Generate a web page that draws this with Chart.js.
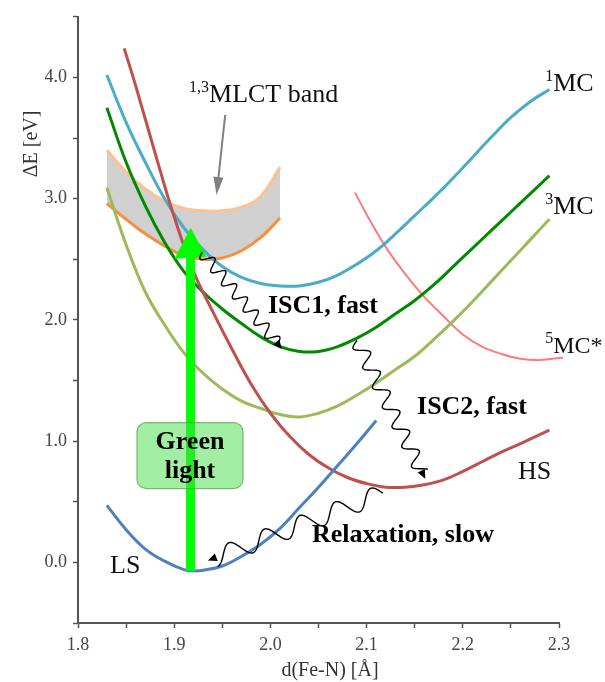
<!DOCTYPE html>
<html>
<head>
<meta charset="utf-8">
<script src="https://cdn.jsdelivr.net/npm/chart.js@4/dist/chart.umd.min.js"></script>
<style>
  html, body { margin: 0; padding: 0; background: #fff; }
  #wrap { position: relative; width: 605px; height: 682px; }
</style>
</head>
<body>
<div id="wrap"><canvas id="pes" width="605" height="682"></canvas></div>
<script>
/* Fe–N potential energy curves: LS / HS / MC / MLCT */

const ticksX = [1.8, 1.9, 2.0, 2.1, 2.2, 2.3];
const ticksY = [0.0, 1.0, 2.0, 3.0, 4.0];

// LS ground state (blue)
const lsX = [1.83, 1.85, 1.87, 1.89, 1.91, 1.92, 1.93, 1.95, 1.97, 1.99, 2.01, 2.03, 2.05, 2.07, 2.09, 2.11];
const lsE = [0.47, 0.27, 0.11, 0.01, -0.06, -0.07, -0.065, -0.03, 0.05, 0.15, 0.28, 0.45, 0.62, 0.80, 0.98, 1.17];

// HS (red)
const hsX = [1.848, 1.86, 1.88, 1.90, 1.92, 1.94, 1.96, 1.98, 2.00, 2.02, 2.04, 2.06, 2.08, 2.10, 2.12, 2.14, 2.16, 2.18, 2.20, 2.22, 2.24, 2.26, 2.29];
const hsE = [4.24, 3.93, 3.38, 2.85, 2.40, 2.07, 1.76, 1.47, 1.23, 1.04, 0.89, 0.78, 0.70, 0.65, 0.62, 0.62, 0.64, 0.68, 0.75, 0.83, 0.91, 0.98, 1.09];

// shared grid for the MC curves
const mcX = [1.83, 1.85, 1.87, 1.89, 1.91, 1.93, 1.95, 1.97, 1.99, 2.01, 2.03, 2.05, 2.07, 2.09, 2.11, 2.13, 2.15, 2.17, 2.19, 2.21, 2.23, 2.25, 2.27, 2.29];
const mc1E  = [4.02, 3.63, 3.30, 3.00, 2.76, 2.58, 2.44, 2.35, 2.30, 2.28, 2.28, 2.31, 2.37, 2.46, 2.57, 2.71, 2.86, 3.01, 3.17, 3.34, 3.51, 3.67, 3.80, 3.90];
const mc3E  = [3.75, 3.30, 2.94, 2.64, 2.40, 2.23, 2.09, 1.97, 1.86, 1.78, 1.74, 1.74, 1.78, 1.85, 1.94, 2.05, 2.16, 2.29, 2.44, 2.59, 2.74, 2.89, 3.04, 3.19];
const mc3bE = [3.09, 2.62, 2.23, 1.96, 1.73, 1.56, 1.43, 1.33, 1.27, 1.22, 1.20, 1.23, 1.29, 1.38, 1.48, 1.59, 1.70, 1.84, 1.99, 2.15, 2.32, 2.49, 2.66, 2.83];

// 5MC* (pink)
const mc5X = [2.088, 2.10, 2.12, 2.14, 2.16, 2.18, 2.20, 2.22, 2.24, 2.26, 2.28, 2.304];
const mc5E = [3.05, 2.87, 2.60, 2.38, 2.19, 2.03, 1.88, 1.78, 1.72, 1.68, 1.67, 1.69];

// MLCT band edges
const mlctX      = [1.83, 1.85, 1.87, 1.89, 1.91, 1.93, 1.95, 1.97, 1.99, 2.01];
const mlctLowE   = [2.96, 2.83, 2.71, 2.61, 2.53, 2.50, 2.51, 2.57, 2.68, 2.84];
const mlctHighE  = [3.40, 3.22, 3.08, 2.98, 2.92, 2.90, 2.90, 2.93, 3.02, 3.26];

// annotations, in data units [x, E]
const greenArrow = [[1.917, -0.07], [1.917, 2.76]];
const greenBox   = [[1.8613, 1.152], [1.9715, 0.609]];
const bandArrow  = [[1.953, 3.69], [1.944, 3.03]];
const iscOne     = [[1.929, 2.56], [2.012, 1.76]];
const iscTwo     = [[2.090, 1.83], [2.161, 0.69]];
const relaxWave  = [[2.117, 0.57], [1.935, 0.016]];

const SERIF = "'Liberation Serif', 'Times New Roman', serif";

const pts = (xs, ys) => xs.map((v, i) => ({ x: v, y: ys[i] }));

const line = (data, color, width) => ({
  data, borderColor: color, borderWidth: width, pointRadius: 0,
  fill: false, tension: 0.4
});

const bandLow  = line(pts(mlctX, mlctLowE), '#f39143', 3);
const bandHigh = Object.assign(line(pts(mlctX, mlctHighE), '#fcc293', 3),
  { fill: '-1', backgroundColor: '#d0d0d0' });
const pink = Object.assign(line(pts(mc5X, mc5E), '#ff7a7a', 2), { clip: false });

const wavy = (ctx, a, b, wl, amp) => {
  const dx = b[0] - a[0], dy = b[1] - a[1];
  const len = Math.hypot(dx, dy);
  const ux = dx / len, uy = dy / len, nx = -uy, ny = ux;
  const body = len - 7;
  ctx.beginPath();
  for (let s = 0; s <= body; s += 0.5) {
    const o = amp * Math.sin(2 * Math.PI * s / wl);
    const px = a[0] + ux * s + nx * o, py = a[1] + uy * s + ny * o;
    s === 0 ? ctx.moveTo(px, py) : ctx.lineTo(px, py);
  }
  ctx.stroke();
  // head
  ctx.beginPath();
  ctx.moveTo(b[0], b[1]);
  ctx.lineTo(b[0] - ux * 9 + nx * 4, b[1] - uy * 9 + ny * 4);
  ctx.lineTo(b[0] - ux * 9 - nx * 4, b[1] - uy * 9 - ny * 4);
  ctx.closePath();
  ctx.fill();
};

const labelsPlugin = {
  id: 'annot',
  afterDatasetsDraw(chart) {
    const { ctx, scales: { x, y } } = chart;
    const P = p => [x.getPixelForValue(p[0]), y.getPixelForValue(p[1])];
    ctx.save();

    /* green excitation arrow */
    const g0 = P(greenArrow[0]), g1 = P(greenArrow[1]);
    ctx.fillStyle = '#00ff00';
    ctx.fillRect(g0[0] - 4.5, g1[1] + 28, 9, g0[1] - g1[1] - 28);
    ctx.beginPath();
    ctx.moveTo(g1[0], g1[1]);
    ctx.lineTo(g1[0] - 16, g1[1] + 31);
    ctx.lineTo(g1[0] + 16, g1[1] + 29);
    ctx.closePath();
    ctx.fill();

    /* box */
    const b0 = P(greenBox[0]), b1 = P(greenBox[1]);
    ctx.beginPath();
    ctx.roundRect(b0[0], b0[1], b1[0] - b0[0], b1[1] - b0[1], 9);
    ctx.fillStyle = 'rgba(70,222,70,0.5)';
    ctx.fill();
    ctx.strokeStyle = 'rgba(70,165,70,0.7)';
    ctx.lineWidth = 1.2;
    ctx.stroke();

    /* gray arrow to MLCT band */
    const a0 = P(bandArrow[0]), a1 = P(bandArrow[1]);
    ctx.strokeStyle = '#7f7f7f';
    ctx.fillStyle = '#7f7f7f';
    ctx.lineWidth = 2;
    const ang = Math.atan2(a1[1] - a0[1], a1[0] - a0[0]);
    ctx.beginPath();
    ctx.moveTo(a0[0], a0[1]);
    ctx.lineTo(a1[0] - Math.cos(ang) * 14, a1[1] - Math.sin(ang) * 14);
    ctx.stroke();
    ctx.beginPath();
    ctx.moveTo(a1[0], a1[1]);
    ctx.lineTo(a1[0] - Math.cos(ang) * 18 - Math.sin(ang) * 5, a1[1] - Math.sin(ang) * 18 + Math.cos(ang) * 5);
    ctx.lineTo(a1[0] - Math.cos(ang) * 18 + Math.sin(ang) * 5, a1[1] - Math.sin(ang) * 18 - Math.cos(ang) * 5);
    ctx.closePath();
    ctx.fill();

    /* wavy transitions */
    ctx.strokeStyle = '#000';
    ctx.fillStyle = '#000';
    ctx.lineWidth = 1.4;
    wavy(ctx, P(iscOne[0]), P(iscOne[1]), 17, 6);
    wavy(ctx, P(iscTwo[0]), P(iscTwo[1]), 22, 7);
    wavy(ctx, P(relaxWave[0]), P(relaxWave[1]), 38, 9);

    /* text */
    const txt = (s, p, font, color = '#111', align = 'left') => {
      ctx.font = font;
      ctx.fillStyle = color;
      ctx.textAlign = align;
      ctx.textBaseline = 'alphabetic';
      const q = P(p);
      ctx.fillText(s, q[0], q[1]);
    };
    const sup = (s, main, p, size = 26) => {
      const q = P(p);
      ctx.fillStyle = '#111';
      ctx.textBaseline = 'alphabetic';
      ctx.font = `16px ${SERIF}`;
      ctx.textAlign = 'right';
      ctx.fillText(s, q[0], q[1] - 10);
      ctx.textAlign = 'left';
      ctx.font = `${size}px ${SERIF}`;
      ctx.fillText(main, q[0], q[1]);
    };
    const bold = `bold 26px ${SERIF}`;
    txt('Green', [1.9164, 0.939], bold, '#000', 'center');
    txt('light', [1.9164, 0.700], bold, '#000', 'center');
    txt('ISC1, fast', [1.9975, 2.058], bold, '#000');
    txt('ISC2, fast', [2.1524, 1.226], bold, '#000');
    txt('Relaxation, slow', [2.0432, 0.165], bold, '#000');
    txt('LS', [1.8333, -0.09], `26px ${SERIF}`);
    txt('HS', [2.2574, 0.691], `26px ${SERIF}`);
    sup('1', 'MC', [2.294, 3.885]);
    sup('3', 'MC', [2.294, 2.872]);
    sup('5', 'MC*', [2.294, 1.728], 24);
    sup('1,3', 'MLCT band', [1.9362, 3.80]);

    /* axis titles */
    ctx.fillStyle = '#333';
    ctx.font = `20px ${SERIF}`;
    ctx.textAlign = 'center';
    ctx.textBaseline = 'alphabetic';
    ctx.fillText('d(Fe-N) [Å]', 330, 676);
    ctx.translate(37, 144);
    ctx.rotate(-Math.PI / 2);
    ctx.fillText('ΔE [eV]', 0, 0);
    ctx.restore();
  }
};

const isMajor = (v, list) => list.some(t => Math.abs(t - v) < 1e-6);

new Chart(document.getElementById('pes'), {
  type: 'line',
  data: {
    datasets: [
      line(pts(lsX, lsE), '#4f81bd', 3),
      line(pts(hsX, hsE), '#c0504d', 3),
      line(pts(mcX, mc3E), '#008a00', 3),
      line(pts(mcX, mc1E), '#4bacc6', 3),
      line(pts(mcX, mc3bE), '#9bbb59', 3),
      pink,
      bandLow,
      bandHigh
    ]
  },
  options: {
    responsive: false,
    animation: false,
    layout: { padding: { top: 14, right: 46, left: 0, bottom: 0 } },
    plugins: {
      legend: { display: false },
      tooltip: { enabled: false },
      filler: { drawTime: 'beforeDatasetsDraw' }
    },
    scales: {
      x: {
        type: 'linear', min: 1.8, max: 2.3,
        afterFit: s => { s.height = 59; },
        border: { display: true, color: '#555', width: 2 },
        grid: { display: true, drawOnChartArea: false, tickLength: 5, color: '#555', tickWidth: 1.5 },
        ticks: {
          stepSize: 0.05, autoSkip: false, maxRotation: 0, padding: 6,
          color: '#444', font: { family: SERIF, size: 18 },
          callback: v => isMajor(v, ticksX) ? v.toFixed(1) : ''
        }
      },
      y: {
        min: -0.5, max: 4.5,
        afterFit: s => { s.width = 78; },
        border: { display: true, color: '#555', width: 2 },
        grid: { display: true, drawOnChartArea: false, tickLength: 5, color: '#555', tickWidth: 1.5 },
        ticks: {
          stepSize: 0.5, autoSkip: false, padding: 6,
          color: '#444', font: { family: SERIF, size: 18 },
          callback: v => isMajor(v, ticksY) ? v.toFixed(1) : ''
        }
      }
    }
  },
  plugins: [labelsPlugin]
});
</script>
</body>
</html>
